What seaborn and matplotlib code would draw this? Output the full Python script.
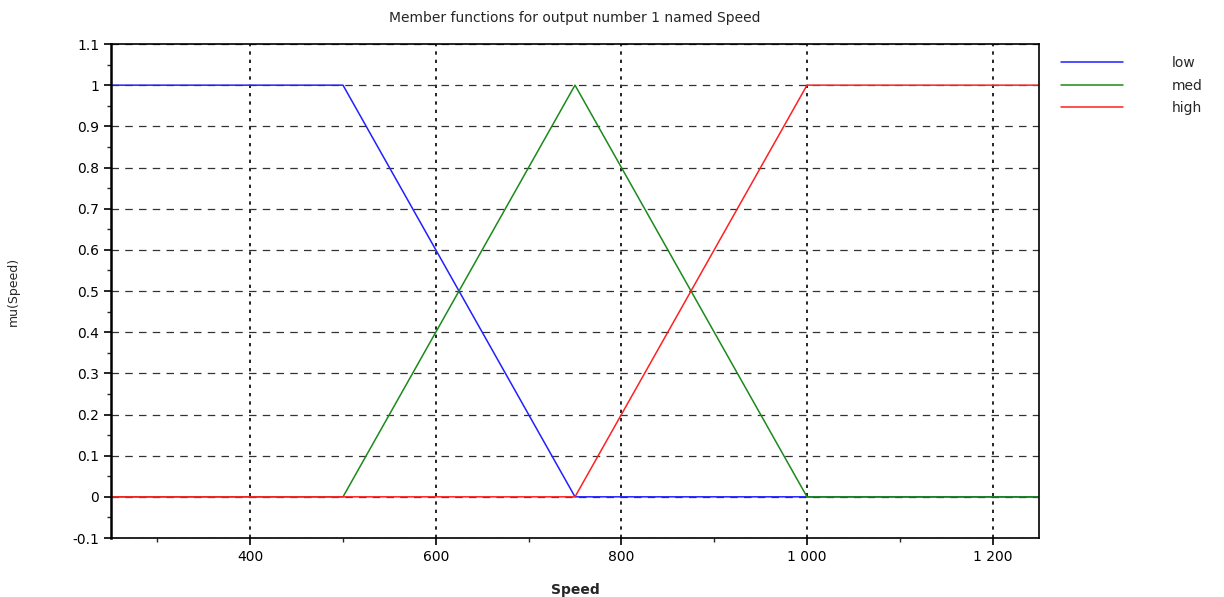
import seaborn as sns
import matplotlib.pyplot as plt
import matplotlib.ticker as mticker
import pandas as pd

# membership function breakpoints
low_x = [250, 500, 750, 1250]
low_y = [1, 1, 0, 0]
med_x = [250, 500, 750, 1000, 1250]
med_y = [0, 0, 1, 0, 0]
high_x = [250, 750, 1000, 1250]
high_y = [0, 0, 1, 1]

series = [("low", low_x, low_y), ("med", med_x, med_y), ("high", high_x, high_y)]
rows = []
for name, xs, ys in series:
    for x, y in zip(xs, ys):
        rows.append({"Speed": x, "mu": y, "mf": name})
df = pd.DataFrame(rows)

sns.set_style("white")
plt.rcParams['font.family'] = ['DejaVu Sans']

fig = plt.figure(figsize=(12.24, 5.97), dpi=100)
ax = fig.add_axes([111 / 1224, 1 - 538 / 597, (1039 - 111) / 1224, (538 - 44) / 597])

palette = {"low": "#2020ff", "med": "#1a8a1a", "high": "#ff2020"}
sns.lineplot(data=df, x="Speed", y="mu", hue="mf", palette=palette, sort=False,
             estimator=None, linewidth=1.1, ax=ax)

ax.set_xlim(250, 1250)
ax.set_ylim(-0.1, 1.1)
ax.xaxis.set_major_locator(mticker.MultipleLocator(200))
ax.xaxis.set_minor_locator(mticker.MultipleLocator(100))
ax.yaxis.set_major_locator(mticker.MultipleLocator(0.1))
ax.yaxis.set_minor_locator(mticker.MultipleLocator(0.05))
ax.xaxis.set_major_formatter(mticker.FuncFormatter(lambda v, p: f"{int(v):,}".replace(",", " ")))
ax.yaxis.set_major_formatter(mticker.FuncFormatter(lambda v, p: f"{v:g}" if abs(v) > 1e-9 else "0"))

ax.grid(True, axis="x", which="major", color="black", linestyle=(0, (2, 3)), linewidth=1.2)
ax.grid(True, axis="y", which="major", color="#333333", linestyle=(0, (6, 5)), linewidth=0.9)
ax.set_axisbelow(True)

ax.tick_params(axis="both", which="major", direction="out", length=5, width=1.2,
               labelsize=10, colors="black", left=True, bottom=True)
ax.tick_params(axis="both", which="minor", direction="out", length=3, width=1,
               left=True, bottom=True)
for side in ["left", "bottom", "right", "top"]:
    ax.spines[side].set_color("black")
    ax.spines[side].set_linewidth(1.2)
ax.spines["left"].set_linewidth(1.8)

ax.set_title("Member functions for output number 1 named Speed", fontsize=10, pad=16)
ax.set_xlabel("Speed", fontsize=10, fontweight="bold", labelpad=14)
ax.set_ylabel("mu(Speed)", fontsize=9, labelpad=38)

ax.legend(title=None, loc="upper left", bbox_to_anchor=(1.013, 0.995), frameon=False,
          fontsize=10, handlelength=4.5, handletextpad=3.5, labelspacing=0.6,
          borderaxespad=0.3)

fig.savefig("out.png", dpi=100)
